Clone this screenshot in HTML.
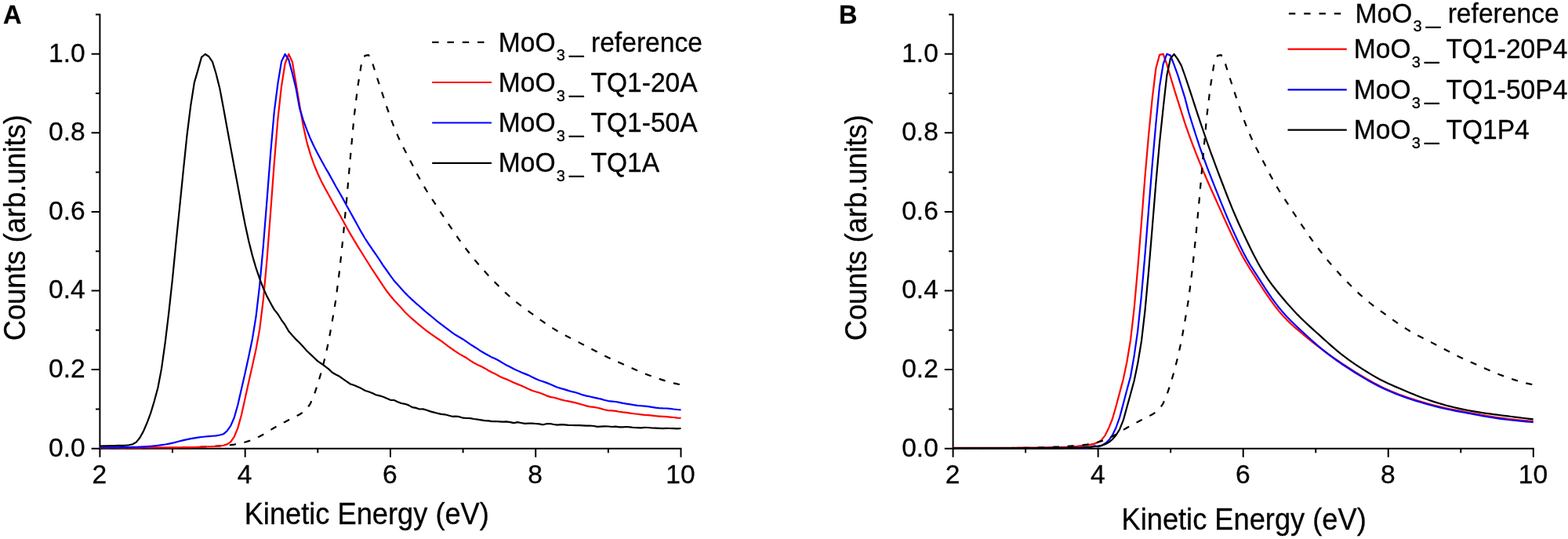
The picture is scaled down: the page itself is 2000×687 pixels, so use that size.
<!DOCTYPE html>
<html lang="en">
<head>
<meta charset="utf-8">
<title>MoO3 kinetic energy spectra</title>
<style>
html,body{margin:0;padding:0;background:#fff;}
body{width:2000px;height:687px;overflow:hidden;}
svg{display:block;}
text{font-family:"Liberation Sans",sans-serif;fill:#000;stroke:#000;stroke-width:0.3px;}
.tk{font-size:33.6px;}
.ti{font-size:36.25px;}
.lg{font-size:33.6px;}
.sub{font-size:20px;}
.us{stroke:none;}
.pl{font-size:32.6px;font-weight:bold;}
</style>
</head>
<body>
<svg width="2000" height="687" viewBox="0 0 2000 687" role="img" aria-label="Normalised secondary electron cut-off spectra of MoO3 films, panels A and B">
<rect width="2000" height="687" fill="#fff"/>
<g id="panelA">
<path d="M127.40,17.40V582.70M116.60,571.70H869.50M220.04,571.70v5.50M312.68,571.70v11.00M405.31,571.70v5.50M497.95,571.70v11.00M590.59,571.70v5.50M683.23,571.70v11.00M775.86,571.70v5.50M868.50,571.70v11.00M127.40,521.40h-5.40M127.40,471.10h-10.80M127.40,420.80h-5.40M127.40,370.50h-10.80M127.40,320.20h-5.40M127.40,269.90h-10.80M127.40,219.60h-5.40M127.40,169.30h-10.80M127.40,119.00h-5.40M127.40,68.70h-10.80M127.40,18.40h-5.40" fill="none" stroke="#000" stroke-width="2"/>
<text class="tk" text-anchor="end" transform="translate(108.70,581.60) scale(1,1.015)">0.0</text>
<text class="tk" text-anchor="end" transform="translate(108.70,481.00) scale(1,1.015)">0.2</text>
<text class="tk" text-anchor="end" transform="translate(108.70,380.40) scale(1,1.015)">0.4</text>
<text class="tk" text-anchor="end" transform="translate(108.70,279.80) scale(1,1.015)">0.6</text>
<text class="tk" text-anchor="end" transform="translate(108.70,179.20) scale(1,1.015)">0.8</text>
<text class="tk" text-anchor="end" transform="translate(108.70,78.60) scale(1,1.015)">1.0</text>
<text class="tk" text-anchor="middle" transform="translate(126.80,616.00) scale(1,1.015)">2</text>
<text class="tk" text-anchor="middle" transform="translate(312.07,616.00) scale(1,1.015)">4</text>
<text class="tk" text-anchor="middle" transform="translate(497.35,616.00) scale(1,1.015)">6</text>
<text class="tk" text-anchor="middle" transform="translate(682.62,616.00) scale(1,1.015)">8</text>
<text class="tk" text-anchor="middle" transform="translate(867.90,616.00) scale(1,1.015)">10</text>
<text class="ti" text-anchor="middle" transform="translate(467.75,668.30) scale(1,1.045)">Kinetic Energy (eV)</text>
<text class="ti" text-anchor="middle" transform="translate(32.10,290.25) rotate(-90) scale(1,1.045)">Counts (arb.units)</text>
<polyline points="127.40,571.29 132.03,571.28 136.66,571.28 141.30,571.28 145.93,571.27 150.56,571.26 155.19,571.25 159.82,571.23 164.45,571.22 169.09,571.20 173.72,571.18 178.35,571.15 182.98,571.13 187.61,571.10 192.25,571.07 196.88,571.03 201.51,571.00 206.14,570.96 210.77,570.92 215.41,570.87 220.04,570.83 224.67,570.78 229.30,570.73 233.93,570.65 238.57,570.53 243.20,570.35 247.83,570.14 252.46,569.92 257.09,569.71 261.72,569.48 266.36,569.25 270.99,568.99 275.62,568.71 280.25,568.40 284.88,568.07 289.52,567.69 294.15,567.20 298.78,566.54 303.41,565.70 308.04,564.70 312.68,563.51 317.31,562.12 321.94,560.47 326.57,558.54 331.20,556.29 335.83,553.72 340.47,550.90 345.10,548.00 349.73,545.20 354.36,542.61 358.99,540.14 363.63,537.73 368.26,535.35 372.89,532.95 377.52,530.57 382.15,528.23 386.78,525.12 391.42,521.22 396.05,514.05 400.68,503.27 405.31,489.47 409.94,473.74 414.58,455.71 419.21,434.95 423.84,409.00 428.47,381.30 433.10,344.54 437.74,301.04 442.37,251.83 447.00,199.42 451.63,148.89 456.26,110.96 460.89,81.71 465.53,70.85 470.16,70.20 474.79,79.32 479.42,94.32 484.05,108.37 488.69,122.46 493.32,136.38 497.95,149.64 502.58,161.84 507.21,172.64 511.85,183.25 516.48,191.80 521.11,200.93 525.74,209.60 530.37,218.82 535.00,227.20 539.64,235.61 544.27,243.26 548.90,250.45 553.53,257.35 558.16,264.41 562.80,271.73 567.43,278.65 572.06,285.58 576.69,292.28 581.32,299.27 585.96,305.85 590.59,312.17 595.22,318.21 599.85,324.18 604.48,330.02 609.12,335.52 613.75,340.91 618.38,345.99 623.01,351.17 627.64,355.94 632.27,360.77 636.91,365.50 641.54,370.04 646.17,374.33 650.80,378.53 655.43,382.46 660.07,386.25 664.70,389.86 669.33,393.26 673.96,396.58 678.59,399.91 683.23,403.19 687.86,406.70 692.49,409.96 697.12,413.14 701.75,416.15 706.38,419.16 711.02,421.94 715.65,424.57 720.28,427.12 724.91,429.52 729.54,431.84 734.18,434.21 738.81,436.65 743.44,439.04 748.07,441.45 752.70,443.89 757.34,446.32 761.97,448.69 766.60,451.15 771.23,453.50 775.86,455.67 780.49,457.75 785.13,459.84 789.76,461.99 794.39,464.09 799.02,466.10 803.65,468.16 808.29,470.23 812.92,472.24 817.55,474.20 822.18,476.17 826.81,477.94 831.44,479.61 836.08,481.27 840.71,482.88 845.34,484.41 849.97,485.85 854.60,487.17 859.24,488.36 863.87,489.41 868.50,490.30" fill="none" stroke="#000" stroke-width="2.2" stroke-linejoin="round" stroke-dasharray="8.2 10.7" stroke-dashoffset="4.58"/>
<polyline points="127.40,570.72 132.03,570.71 136.66,570.70 141.30,570.68 145.93,570.67 150.56,570.65 155.19,570.63 159.82,570.61 164.45,570.59 169.09,570.57 173.72,570.55 178.35,570.53 182.98,570.51 187.61,570.49 192.25,570.47 196.88,570.45 201.51,570.42 206.14,570.40 210.77,570.37 215.41,570.35 220.04,570.31 224.67,570.28 229.30,570.24 233.93,570.20 238.57,570.15 243.20,570.08 247.83,569.98 252.46,569.85 257.09,569.68 261.72,569.49 266.36,569.27 270.99,569.03 275.62,568.79 280.25,568.44 284.88,567.73 289.52,566.38 294.15,563.42 298.78,556.69 303.41,545.41 308.04,528.55 312.68,507.55 317.31,486.42 321.94,466.13 326.57,444.96 331.20,419.64 335.83,381.78 340.47,331.49 345.10,270.76 349.73,208.34 354.36,152.08 358.99,110.00 363.63,81.00 368.26,69.00 372.89,79.00 377.52,106.20 382.15,134.09 386.78,160.29 391.42,181.41 396.05,197.11 400.68,210.25 405.31,221.30 409.94,231.20 414.58,239.92 419.21,248.31 423.84,256.70 428.47,265.12 433.10,273.26 437.74,281.67 442.37,290.29 447.00,298.38 451.63,306.15 456.26,313.83 460.89,321.26 465.53,328.72 470.16,335.98 474.79,343.47 479.42,350.37 484.05,357.38 488.69,364.42 493.32,371.05 497.95,377.00 502.58,382.51 507.21,387.40 511.85,392.39 516.48,397.81 521.11,402.30 525.74,406.39 530.37,410.41 535.00,414.45 539.64,418.06 544.27,421.74 548.90,425.13 553.53,428.36 558.16,431.47 562.80,434.65 567.43,438.06 572.06,441.60 576.69,444.97 581.32,448.06 585.96,451.17 590.59,453.82 595.22,456.31 599.85,459.59 604.48,462.45 609.12,464.89 613.75,467.07 618.38,469.43 623.01,472.28 627.64,474.76 632.27,476.85 636.91,479.44 641.54,481.72 646.17,483.39 650.80,485.52 655.43,487.72 660.07,489.64 664.70,491.57 669.33,493.48 673.96,495.70 678.59,497.76 683.23,499.20 687.86,500.46 692.49,502.16 697.12,504.35 701.75,505.89 706.38,506.77 711.02,507.93 715.65,509.34 720.28,510.49 724.91,511.39 729.54,512.37 734.18,513.41 738.81,514.69 743.44,516.03 748.07,517.33 752.70,518.31 757.34,518.96 761.97,519.72 766.60,520.87 771.23,522.28 775.86,523.10 780.49,523.32 785.13,523.86 789.76,524.78 794.39,525.43 799.02,525.90 803.65,526.58 808.29,527.24 812.92,527.77 817.55,528.31 822.18,528.79 826.81,529.16 831.44,529.60 836.08,530.16 840.71,530.53 845.34,530.81 849.97,531.21 854.60,531.57 859.24,532.02 863.87,532.65 868.50,532.96" fill="none" stroke="#ff0000" stroke-width="2.2" stroke-linejoin="round"/>
<polyline points="127.40,570.52 132.03,570.51 136.66,570.49 141.30,570.44 145.93,570.38 150.56,570.31 155.19,570.22 159.82,570.11 164.45,570.00 169.09,569.87 173.72,569.74 178.35,569.59 182.98,569.38 187.61,569.10 192.25,568.73 196.88,568.29 201.51,567.78 206.14,567.19 210.77,566.51 215.41,565.67 220.04,564.66 224.67,563.51 229.30,562.31 233.93,561.14 238.57,560.08 243.20,559.13 247.83,558.30 252.46,557.60 257.09,557.02 261.72,556.51 266.36,556.10 270.99,555.77 275.62,555.34 280.25,554.51 284.88,553.30 289.52,549.30 294.15,542.91 298.78,532.27 303.41,515.68 308.04,495.44 312.68,475.17 317.31,453.94 321.94,431.74 326.57,403.27 331.20,363.54 335.83,313.44 340.47,255.33 345.10,195.71 349.73,142.83 354.36,106.60 358.99,78.60 363.63,69.00 368.26,76.20 372.89,93.40 377.52,112.60 382.15,137.94 386.78,153.11 391.42,165.67 396.05,177.08 400.68,187.02 405.31,195.91 409.94,204.48 414.58,212.94 419.21,220.85 423.84,229.20 428.47,237.69 433.10,245.69 437.74,253.90 442.37,262.42 447.00,270.80 451.63,279.14 456.26,287.57 460.89,295.92 465.53,303.75 470.16,310.90 474.79,317.74 479.42,324.25 484.05,331.19 488.69,338.29 493.32,344.74 497.95,351.45 502.58,357.66 507.21,362.81 511.85,367.90 516.48,373.12 521.11,377.80 525.74,382.07 530.37,386.30 535.00,390.22 539.64,394.36 544.27,398.45 548.90,402.17 553.53,406.00 558.16,409.92 562.80,413.42 567.43,416.78 572.06,420.44 576.69,423.96 581.32,427.06 585.96,429.81 590.59,432.45 595.22,435.58 599.85,438.88 604.48,441.73 609.12,444.60 613.75,447.79 618.38,450.53 623.01,453.06 627.64,455.60 632.27,457.60 636.91,459.95 641.54,462.91 646.17,465.48 650.80,467.84 655.43,470.17 660.07,472.37 664.70,474.59 669.33,476.39 673.96,478.13 678.59,480.41 683.23,482.81 687.86,484.72 692.49,486.18 697.12,487.86 701.75,489.75 706.38,491.74 711.02,493.74 715.65,495.17 720.28,496.38 724.91,497.85 729.54,499.19 734.18,500.28 738.81,501.75 743.44,503.43 748.07,504.61 752.70,505.51 757.34,506.56 761.97,507.59 766.60,508.68 771.23,510.03 775.86,511.05 780.49,511.57 785.13,512.01 789.76,512.86 794.39,513.92 799.02,514.66 803.65,515.29 808.29,516.19 812.92,516.91 817.55,517.25 822.18,517.67 826.81,518.16 831.44,518.80 836.08,519.65 840.71,520.20 845.34,520.40 849.97,520.49 854.60,520.88 859.24,521.49 863.87,521.98 868.50,522.36" fill="none" stroke="#0000ff" stroke-width="2.2" stroke-linejoin="round"/>
<polyline points="127.40,568.51 132.03,568.44 136.66,568.33 141.30,568.20 145.93,568.06 150.56,567.92 155.19,567.84 159.82,567.75 164.45,567.30 169.09,566.20 173.72,563.60 178.35,558.00 182.98,549.60 187.61,538.80 192.25,526.40 196.88,511.00 201.51,493.72 206.14,469.10 210.77,436.15 215.41,397.65 220.04,355.06 224.67,307.79 229.30,262.47 233.93,216.44 238.57,171.77 243.20,134.92 247.83,105.40 252.46,89.40 257.09,72.80 261.72,69.00 266.36,72.00 270.99,78.80 275.62,94.00 280.25,112.40 284.88,137.00 289.52,162.43 294.15,187.60 298.78,212.78 303.41,237.40 308.04,262.44 312.68,286.32 317.31,307.56 321.94,325.89 326.57,341.73 331.20,355.21 335.83,367.42 340.47,377.65 345.10,386.17 349.73,394.60 354.36,400.20 358.99,407.80 363.63,414.20 368.26,422.20 372.89,427.40 377.52,432.60 382.15,437.00 386.78,442.00 391.42,447.20 396.05,451.60 400.68,456.00 405.31,460.40 409.94,463.50 414.58,466.80 419.21,470.40 423.84,474.80 428.47,477.50 433.10,479.80 437.74,483.20 442.37,486.30 447.00,489.50 451.63,491.00 456.26,493.00 460.89,495.10 465.53,497.80 470.16,499.20 474.79,501.00 479.42,503.20 484.05,504.40 488.69,505.80 493.32,507.80 497.95,509.80 502.58,510.00 507.21,512.20 511.85,514.00 516.48,514.80 521.11,516.40 525.74,519.10 530.37,519.90 535.00,521.50 539.64,521.40 544.27,522.80 548.90,524.40 553.53,525.60 558.16,526.80 562.80,527.80 567.43,528.30 572.06,529.50 576.69,530.80 581.32,530.60 585.96,531.20 590.59,532.70 595.22,533.00 599.85,533.10 604.48,534.00 609.12,534.70 613.75,535.40 618.38,536.10 623.01,536.40 627.64,537.20 632.27,537.00 636.91,537.30 641.54,537.70 646.17,537.40 650.80,538.20 655.43,539.20 660.07,538.20 664.70,539.00 669.33,539.80 673.96,539.70 678.59,539.60 683.23,540.00 687.86,540.40 692.49,541.30 697.12,540.20 701.75,540.00 706.38,541.00 711.02,541.70 715.65,541.10 720.28,541.40 724.91,541.80 729.54,542.00 734.18,542.20 738.81,542.20 743.44,542.40 748.07,542.70 752.70,542.50 757.34,543.00 761.97,543.90 766.60,543.60 771.23,543.40 775.86,543.50 780.49,544.00 785.13,543.60 789.76,544.40 794.39,544.40 799.02,544.00 803.65,544.30 808.29,545.00 812.92,545.20 817.55,545.40 822.18,544.80 826.81,545.00 831.44,545.50 836.08,545.60 840.71,545.80 845.34,546.20 849.97,545.90 854.60,546.00 859.24,546.10 863.87,546.30 868.50,546.00" fill="none" stroke="#000" stroke-width="2.2" stroke-linejoin="round"/>
<path d="M551.2,53.8H627" stroke="#000" stroke-width="2.2" fill="none" stroke-dasharray="8.4 10.9" stroke-dashoffset="0"/>
<text class="lg" transform="translate(635.80,65.50) scale(1,1.045)">MoO<tspan class="sub" x="74.0" dy="11.29">3</tspan><tspan class="us" x="90.3" dy="-11.29">_</tspan><tspan x="108.86" dy="0.00"> reference</tspan></text>
<path d="M551.2,105H627" stroke="#ff0000" stroke-width="2.2" fill="none"/>
<text class="lg" transform="translate(635.80,116.80) scale(1,1.045)">MoO<tspan class="sub" x="74.0" dy="11.29">3</tspan><tspan class="us" x="90.3" dy="-11.29">_</tspan><tspan x="108.86" dy="0.00"> TQ1-20A</tspan></text>
<path d="M551.2,156.5H627" stroke="#0000ff" stroke-width="2.2" fill="none"/>
<text class="lg" transform="translate(635.80,167.90) scale(1,1.045)">MoO<tspan class="sub" x="74.0" dy="11.29">3</tspan><tspan class="us" x="90.3" dy="-11.29">_</tspan><tspan x="108.86" dy="0.00"> TQ1-50A</tspan></text>
<path d="M551.2,207.8H627" stroke="#000" stroke-width="2.2" fill="none"/>
<text class="lg" transform="translate(635.80,218.90) scale(1,1.045)">MoO<tspan class="sub" x="74.0" dy="11.29">3</tspan><tspan class="us" x="90.3" dy="-11.29">_</tspan><tspan x="108.86" dy="0.00"> TQ1A</tspan></text>
<text class="pl" transform="translate(4.00,29.70) scale(1,1.015)">A</text>
</g>
<g id="panelB">
<path d="M1215.60,17.40V582.70M1204.80,571.70H1956.80M1308.12,571.70v5.50M1400.65,571.70v11.00M1493.17,571.70v5.50M1585.70,571.70v11.00M1678.22,571.70v5.50M1770.75,571.70v11.00M1863.28,571.70v5.50M1955.80,571.70v11.00M1215.60,521.40h-5.40M1215.60,471.10h-10.80M1215.60,420.80h-5.40M1215.60,370.50h-10.80M1215.60,320.20h-5.40M1215.60,269.90h-10.80M1215.60,219.60h-5.40M1215.60,169.30h-10.80M1215.60,119.00h-5.40M1215.60,68.70h-10.80M1215.60,18.40h-5.40" fill="none" stroke="#000" stroke-width="2"/>
<text class="tk" text-anchor="end" transform="translate(1196.90,581.60) scale(1,1.015)">0.0</text>
<text class="tk" text-anchor="end" transform="translate(1196.90,481.00) scale(1,1.015)">0.2</text>
<text class="tk" text-anchor="end" transform="translate(1196.90,380.40) scale(1,1.015)">0.4</text>
<text class="tk" text-anchor="end" transform="translate(1196.90,279.80) scale(1,1.015)">0.6</text>
<text class="tk" text-anchor="end" transform="translate(1196.90,179.20) scale(1,1.015)">0.8</text>
<text class="tk" text-anchor="end" transform="translate(1196.90,78.60) scale(1,1.015)">1.0</text>
<text class="tk" text-anchor="middle" transform="translate(1215.20,616.00) scale(1,1.015)">2</text>
<text class="tk" text-anchor="middle" transform="translate(1400.25,616.00) scale(1,1.015)">4</text>
<text class="tk" text-anchor="middle" transform="translate(1585.30,616.00) scale(1,1.015)">6</text>
<text class="tk" text-anchor="middle" transform="translate(1770.35,616.00) scale(1,1.015)">8</text>
<text class="tk" text-anchor="middle" transform="translate(1955.40,616.00) scale(1,1.015)">10</text>
<text class="ti" text-anchor="middle" transform="translate(1586.60,674.70) scale(1,1.045)">Kinetic Energy (eV)</text>
<text class="ti" text-anchor="middle" transform="translate(1105.00,290.25) rotate(-90) scale(1,1.045)">Counts (arb.units)</text>
<polyline points="1215.25,570.90 1219.88,570.90 1224.51,570.90 1229.13,570.89 1233.76,570.89 1238.39,570.88 1243.02,570.88 1247.64,570.87 1252.27,570.86 1256.90,570.85 1261.53,570.84 1266.16,570.82 1270.78,570.81 1275.41,570.79 1280.04,570.78 1284.67,570.76 1289.30,570.74 1293.92,570.73 1298.55,570.71 1303.18,570.68 1307.81,570.65 1312.43,570.61 1317.06,570.56 1321.69,570.50 1326.32,570.44 1330.95,570.36 1335.57,570.28 1340.20,570.20 1344.83,570.11 1349.46,570.02 1354.08,569.92 1358.71,569.85 1363.34,569.64 1367.97,569.08 1372.60,569.00 1377.22,568.40 1381.85,567.80 1386.48,567.20 1391.11,566.60 1395.73,565.60 1400.36,563.90 1404.99,560.80 1409.62,554.80 1414.25,545.60 1418.87,534.00 1423.50,518.00 1428.13,500.60 1432.76,483.30 1437.38,461.36 1442.01,433.51 1446.64,393.24 1451.27,341.35 1455.90,283.99 1460.52,224.78 1465.15,171.68 1469.78,125.00 1474.41,87.00 1479.04,69.80 1483.66,68.80 1488.29,81.80 1492.92,97.70 1497.55,113.10 1502.17,127.80 1506.80,142.37 1511.43,157.16 1516.06,170.33 1520.69,182.83 1525.31,194.78 1529.94,206.38 1534.57,217.65 1539.20,228.48 1543.82,238.96 1548.45,249.27 1553.08,259.58 1557.71,269.92 1562.34,280.20 1566.96,290.29 1571.59,300.17 1576.22,309.78 1580.85,318.96 1585.47,327.62 1590.10,335.68 1594.73,343.22 1599.36,350.46 1603.99,357.62 1608.61,364.75 1613.24,371.79 1617.87,378.66 1622.50,385.14 1627.13,391.30 1631.75,397.10 1636.38,402.46 1641.01,407.37 1645.64,411.87 1650.26,416.05 1654.89,420.05 1659.52,424.01 1664.15,427.90 1668.78,431.69 1673.40,435.38 1678.03,439.01 1682.66,442.60 1687.29,446.10 1691.91,449.50 1696.54,452.80 1701.17,456.05 1705.80,459.24 1710.43,462.39 1715.05,465.47 1719.68,468.51 1724.31,471.50 1728.94,474.42 1733.57,477.27 1738.19,480.03 1742.82,482.71 1747.45,485.32 1752.08,487.86 1756.70,490.31 1761.33,492.65 1765.96,494.88 1770.59,496.97 1775.22,498.97 1779.84,500.87 1784.47,502.67 1789.10,504.38 1793.73,506.00 1798.35,507.56 1802.98,509.04 1807.61,510.48 1812.24,511.88 1816.87,513.23 1821.49,514.53 1826.12,515.79 1830.75,516.99 1835.38,518.13 1840.00,519.21 1844.63,520.24 1849.26,521.22 1853.89,522.16 1858.52,523.07 1863.14,523.94 1867.77,524.80 1872.40,525.66 1877.03,526.51 1881.65,527.36 1886.28,528.20 1890.91,529.02 1895.54,529.81 1900.17,530.58 1904.79,531.31 1909.42,531.99 1914.05,532.62 1918.68,533.21 1923.31,533.77 1927.93,534.30 1932.56,534.80 1937.19,535.27 1941.82,535.72 1946.44,536.14 1951.07,536.54 1955.70,536.91" fill="none" stroke="#ff0000" stroke-width="2.2" stroke-linejoin="round"/>
<polyline points="1215.25,571.00 1219.88,571.00 1224.51,571.00 1229.13,571.00 1233.76,571.00 1238.39,571.00 1243.02,571.00 1247.64,571.00 1252.27,571.00 1256.90,571.00 1261.53,571.00 1266.16,571.00 1270.78,571.00 1275.41,571.00 1280.04,571.00 1284.67,571.00 1289.30,571.00 1293.92,571.00 1298.55,571.00 1303.18,571.00 1307.81,571.00 1312.43,570.99 1317.06,570.99 1321.69,570.98 1326.32,570.97 1330.95,570.96 1335.57,570.95 1340.20,570.93 1344.83,570.92 1349.46,570.90 1354.08,570.88 1358.71,570.85 1363.34,570.82 1367.97,570.77 1372.60,570.72 1377.22,570.66 1381.85,570.66 1386.48,570.57 1391.11,569.97 1395.73,568.38 1400.36,569.40 1404.99,568.00 1409.62,565.20 1414.25,561.10 1418.87,554.70 1423.50,545.00 1428.13,532.00 1432.76,514.60 1437.38,497.00 1442.01,480.00 1446.64,453.60 1451.27,421.03 1455.90,376.92 1460.52,324.04 1465.15,266.36 1469.78,209.34 1474.41,157.20 1479.04,110.20 1483.66,81.80 1488.29,68.80 1492.92,70.60 1497.55,82.60 1502.17,95.30 1506.80,110.00 1511.43,124.90 1516.06,142.77 1520.69,157.77 1525.31,172.27 1529.94,186.28 1534.57,199.40 1539.20,211.89 1543.82,223.86 1548.45,235.54 1553.08,247.12 1557.71,258.61 1562.34,269.94 1566.96,280.90 1571.59,291.40 1576.22,301.57 1580.85,311.49 1585.47,320.96 1590.10,329.74 1594.73,337.73 1599.36,345.05 1603.99,352.17 1608.61,359.35 1613.24,366.53 1617.87,373.57 1622.50,380.29 1627.13,386.60 1631.75,392.56 1636.38,398.11 1641.01,403.22 1645.64,407.99 1650.26,412.58 1654.89,416.99 1659.52,421.22 1664.15,425.44 1668.78,429.71 1673.40,433.94 1678.03,438.06 1682.66,442.03 1687.29,445.88 1691.91,449.58 1696.54,453.14 1701.17,456.62 1705.80,460.02 1710.43,463.22 1715.05,466.23 1719.68,469.24 1724.31,472.25 1728.94,475.23 1733.57,478.12 1738.19,480.91 1742.82,483.62 1747.45,486.24 1752.08,488.79 1756.70,491.25 1761.33,493.60 1765.96,495.80 1770.59,497.87 1775.22,499.86 1779.84,501.75 1784.47,503.56 1789.10,505.27 1793.73,506.90 1798.35,508.45 1802.98,509.94 1807.61,511.39 1812.24,512.80 1816.87,514.16 1821.49,515.49 1826.12,516.76 1830.75,517.97 1835.38,519.12 1840.00,520.22 1844.63,521.25 1849.26,522.23 1853.89,523.16 1858.52,524.06 1863.14,524.93 1867.77,525.79 1872.40,526.65 1877.03,527.52 1881.65,528.39 1886.28,529.26 1890.91,530.12 1895.54,530.96 1900.17,531.76 1904.79,532.51 1909.42,533.20 1914.05,533.84 1918.68,534.42 1923.31,534.97 1927.93,535.50 1932.56,536.00 1937.19,536.47 1941.82,536.92 1946.44,537.34 1951.07,537.73 1955.70,538.11" fill="none" stroke="#0000ff" stroke-width="2.2" stroke-linejoin="round"/>
<polyline points="1215.25,571.20 1219.88,571.20 1224.51,571.20 1229.13,571.20 1233.76,571.20 1238.39,571.20 1243.02,571.20 1247.64,571.20 1252.27,571.20 1256.90,571.20 1261.53,571.20 1266.16,571.20 1270.78,571.20 1275.41,571.20 1280.04,571.20 1284.67,571.20 1289.30,571.20 1293.92,571.20 1298.55,571.20 1303.18,571.20 1307.81,571.20 1312.43,571.19 1317.06,571.19 1321.69,571.18 1326.32,571.17 1330.95,571.16 1335.57,571.15 1340.20,571.14 1344.83,571.12 1349.46,571.10 1354.08,571.07 1358.71,571.02 1363.34,570.94 1367.97,570.85 1372.60,570.77 1377.22,570.65 1381.85,570.31 1386.48,569.49 1391.11,569.60 1395.73,569.10 1400.36,568.60 1404.99,567.80 1409.62,566.20 1414.25,563.80 1418.87,560.00 1423.50,554.80 1428.13,547.20 1432.76,535.70 1437.38,519.00 1442.01,502.30 1446.64,485.20 1451.27,462.85 1455.90,435.09 1460.52,395.53 1465.15,345.13 1469.78,289.53 1474.41,232.89 1479.04,181.74 1483.66,137.90 1488.29,96.60 1492.92,74.60 1497.55,69.00 1502.17,75.40 1506.80,83.60 1511.43,96.50 1516.06,110.40 1520.69,124.40 1525.31,138.71 1529.94,152.67 1534.57,166.27 1539.20,179.74 1543.82,192.82 1548.45,205.48 1553.08,217.87 1557.71,230.01 1562.34,242.02 1566.96,253.85 1571.59,265.32 1576.22,276.28 1580.85,286.68 1585.47,296.66 1590.10,306.46 1594.73,316.07 1599.36,325.33 1603.99,334.07 1608.61,342.20 1613.24,349.69 1617.87,356.62 1622.50,362.99 1627.13,368.96 1631.75,374.73 1636.38,380.32 1641.01,385.67 1645.64,390.87 1650.26,395.94 1654.89,400.88 1659.52,405.60 1664.15,410.06 1668.78,414.42 1673.40,418.64 1678.03,422.78 1682.66,426.94 1687.29,431.12 1691.91,435.28 1696.54,439.40 1701.17,443.45 1705.80,447.40 1710.43,451.17 1715.05,454.73 1719.68,458.11 1724.31,461.42 1728.94,464.55 1733.57,467.59 1738.19,470.60 1742.82,473.54 1747.45,476.40 1752.08,479.15 1756.70,481.77 1761.33,484.24 1765.96,486.56 1770.59,488.76 1775.22,490.85 1779.84,492.88 1784.47,494.86 1789.10,496.82 1793.73,498.76 1798.35,500.68 1802.98,502.57 1807.61,504.41 1812.24,506.20 1816.87,507.92 1821.49,509.57 1826.12,511.14 1830.75,512.64 1835.38,514.07 1840.00,515.43 1844.63,516.70 1849.26,517.91 1853.89,519.05 1858.52,520.13 1863.14,521.15 1867.77,522.12 1872.40,523.02 1877.03,523.87 1881.65,524.67 1886.28,525.42 1890.91,526.13 1895.54,526.80 1900.17,527.44 1904.79,528.05 1909.42,528.66 1914.05,529.25 1918.68,529.84 1923.31,530.42 1927.93,531.00 1932.56,531.58 1937.19,532.15 1941.82,532.72 1946.44,533.28 1951.07,533.85 1955.70,534.41" fill="none" stroke="#000" stroke-width="2.2" stroke-linejoin="round"/>
<polyline points="1215.25,571.29 1219.88,571.28 1224.51,571.28 1229.13,571.28 1233.76,571.27 1238.39,571.26 1243.02,571.25 1247.64,571.23 1252.27,571.22 1256.90,571.20 1261.53,571.18 1266.16,571.15 1270.78,571.13 1275.41,571.10 1280.04,571.07 1284.67,571.03 1289.30,571.00 1293.92,570.96 1298.55,570.92 1303.18,570.87 1307.81,570.83 1312.43,570.78 1317.06,570.73 1321.69,570.65 1326.32,570.53 1330.95,570.35 1335.57,570.14 1340.20,569.92 1344.83,569.71 1349.46,569.48 1354.08,569.25 1358.71,568.99 1363.34,568.71 1367.97,568.40 1372.60,568.07 1377.22,567.69 1381.85,567.20 1386.48,566.54 1391.11,565.70 1395.73,564.70 1400.36,563.51 1404.99,562.12 1409.62,560.47 1414.25,558.54 1418.87,556.29 1423.50,553.72 1428.13,550.90 1432.76,548.00 1437.38,545.20 1442.01,542.61 1446.64,540.14 1451.27,537.73 1455.90,535.35 1460.52,532.95 1465.15,530.57 1469.78,528.23 1474.41,525.12 1479.04,521.22 1483.66,514.05 1488.29,503.27 1492.92,489.47 1497.55,473.74 1502.17,455.71 1506.80,434.95 1511.43,409.00 1516.06,381.30 1520.69,344.54 1525.31,301.04 1529.94,251.83 1534.57,199.42 1539.20,148.89 1543.82,110.96 1548.45,81.71 1553.08,70.85 1557.71,70.20 1562.34,79.32 1566.96,94.32 1571.59,108.37 1576.22,122.46 1580.85,136.38 1585.47,149.64 1590.10,161.84 1594.73,172.64 1599.36,183.25 1603.99,191.80 1608.61,200.93 1613.24,209.60 1617.87,218.82 1622.50,227.20 1627.13,235.61 1631.75,243.26 1636.38,250.45 1641.01,257.35 1645.64,264.41 1650.26,271.73 1654.89,278.65 1659.52,285.58 1664.15,292.28 1668.78,299.27 1673.40,305.85 1678.03,312.17 1682.66,318.21 1687.29,324.18 1691.91,330.02 1696.54,335.52 1701.17,340.91 1705.80,345.99 1710.43,351.17 1715.05,355.94 1719.68,360.77 1724.31,365.50 1728.94,370.04 1733.57,374.33 1738.19,378.53 1742.82,382.46 1747.45,386.25 1752.08,389.86 1756.70,393.26 1761.33,396.58 1765.96,399.91 1770.59,403.19 1775.22,406.70 1779.84,409.96 1784.47,413.14 1789.10,416.15 1793.73,419.16 1798.35,421.94 1802.98,424.57 1807.61,427.12 1812.24,429.52 1816.87,431.84 1821.49,434.21 1826.12,436.65 1830.75,439.04 1835.38,441.45 1840.00,443.89 1844.63,446.32 1849.26,448.69 1853.89,451.15 1858.52,453.50 1863.14,455.67 1867.77,457.75 1872.40,459.84 1877.03,461.99 1881.65,464.09 1886.28,466.10 1890.91,468.16 1895.54,470.23 1900.17,472.24 1904.79,474.20 1909.42,476.17 1914.05,477.94 1918.68,479.61 1923.31,481.27 1927.93,482.88 1932.56,484.41 1937.19,485.85 1941.82,487.17 1946.44,488.36 1951.07,489.41 1955.70,490.30" fill="none" stroke="#000" stroke-width="2.2" stroke-linejoin="round" stroke-dasharray="8.2 10.7" stroke-dashoffset="4.82"/>
<path d="M1643.9,17.3H1719" stroke="#000" stroke-width="2.2" fill="none" stroke-dasharray="8.4 10.9" stroke-dashoffset="0"/>
<text class="lg" transform="translate(1728.50,28.50) scale(1,1.045)">MoO<tspan class="sub" x="74.0" dy="11.29">3</tspan><tspan class="us" x="90.3" dy="-11.29">_</tspan><tspan x="108.86" dy="0.00"> reference</tspan></text>
<path d="M1642.5,62.7H1717.8" stroke="#ff0000" stroke-width="2.2" fill="none"/>
<text class="lg" transform="translate(1726.80,74.40) scale(1,1.045)">MoO<tspan class="sub" x="74.0" dy="11.29">3</tspan><tspan class="us" x="90.3" dy="-11.29">_</tspan><tspan x="108.86" dy="0.00"> TQ1-20P4</tspan></text>
<path d="M1642.5,114.3H1717.8" stroke="#0000ff" stroke-width="2.2" fill="none"/>
<text class="lg" transform="translate(1726.80,126.30) scale(1,1.045)">MoO<tspan class="sub" x="74.0" dy="11.29">3</tspan><tspan class="us" x="90.3" dy="-11.29">_</tspan><tspan x="108.86" dy="0.00"> TQ1-50P4</tspan></text>
<path d="M1642.5,165.6H1717.8" stroke="#000" stroke-width="2.2" fill="none"/>
<text class="lg" transform="translate(1726.80,177.30) scale(1,1.045)">MoO<tspan class="sub" x="74.0" dy="11.29">3</tspan><tspan class="us" x="90.3" dy="-11.29">_</tspan><tspan x="108.86" dy="0.00"> TQ1P4</tspan></text>
<text class="pl" transform="translate(1070.00,29.70) scale(1,1.015)">B</text>
</g>
</svg>
</body>
</html>
